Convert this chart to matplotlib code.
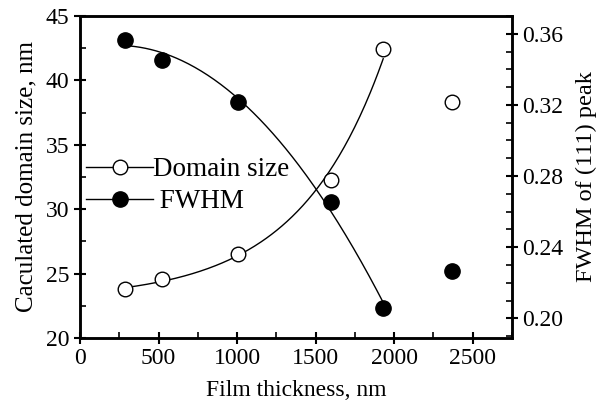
import numpy as np
import matplotlib.pyplot as plt
from matplotlib.lines import Line2D
from matplotlib.ticker import MultipleLocator

plt.rcParams['font.family'] = ['Liberation Serif', 'DejaVu Serif']

# data
thickness = [285, 520, 1005, 1600, 1930, 2370]
domain_size = [23.8, 24.6, 26.5, 32.3, 42.4, 38.3]
fwhm = [0.3566, 0.3454, 0.3218, 0.2657, 0.2056, 0.2264]
n_fit = 5  # the curves use the first five points only

fig = plt.figure(figsize=(6.01, 4.08), dpi=100)
ax = fig.add_axes([0.133, 0.1716, 0.719, 0.7894])
ax2 = ax.twinx()

# fitted curves (exponential growth for size, parabola for fwhm)
xf = np.linspace(thickness[0], thickness[n_fit - 1], 200)
c1 = np.polyfit(thickness[:n_fit], np.log(np.array(domain_size[:n_fit]) - 23), 1)
ax.plot(xf, 23 + np.exp(np.polyval(c1, xf)), color='black', lw=1.0)
c2 = np.polyfit(thickness[:n_fit], fwhm[:n_fit], 2)
ax2.plot(xf, np.polyval(c2, xf), color='black', lw=1.0)

ax.plot(thickness, domain_size, 'o', mfc='white', mec='black', mew=1.0, ms=10.5, ls='none')
ax2.plot(thickness, fwhm, 'o', mfc='black', mec='black', ms=11, ls='none')

ax.set_xlim(0, 2750)
ax.set_ylim(20, 45)

ax.xaxis.set_major_locator(MultipleLocator(500))
ax.xaxis.set_minor_locator(MultipleLocator(250))
ax.yaxis.set_major_locator(MultipleLocator(5))
ax.yaxis.set_minor_locator(MultipleLocator(2.5))
ax2.yaxis.set_major_locator(MultipleLocator(0.04))
ax2.yaxis.set_minor_locator(MultipleLocator(0.01))
ax2.yaxis.set_major_formatter('{x:.2f}')
ax2.set_ylim(0.189, 0.370)

for a in (ax, ax2):
    a.tick_params(which='major', direction='inout', length=8, width=1.5, labelsize=17)
    a.tick_params(which='minor', direction='in', length=4, width=1.2)
    for s in a.spines.values():
        s.set_linewidth(1.8)
ax.tick_params(top=False, which='both')
ax.tick_params(axis='x', pad=3)

ax.set_xlabel('Film thickness, nm', fontsize=17, labelpad=8)
ax.set_ylabel('Caculated domain size, nm', fontsize=18, labelpad=6)
ax2.set_ylabel('FWHM of (111) peak', fontsize=17.5, labelpad=9)

handles = [
    Line2D([], [], color='black', lw=1.0, marker='o', mfc='white', mec='black', ms=10.5),
    Line2D([], [], color='black', lw=1.0, marker='o', mfc='black', mec='black', ms=11),
]
ax.legend(handles, ['Domain size', ' FWHM'], loc='center left', bbox_to_anchor=(0.015, 0.473),
          frameon=False, fontsize=19.5, handlelength=2.45, handletextpad=0.0,
          labelspacing=0.25, borderaxespad=0.0, borderpad=0.0)

fig.savefig('out.png', dpi=100)
